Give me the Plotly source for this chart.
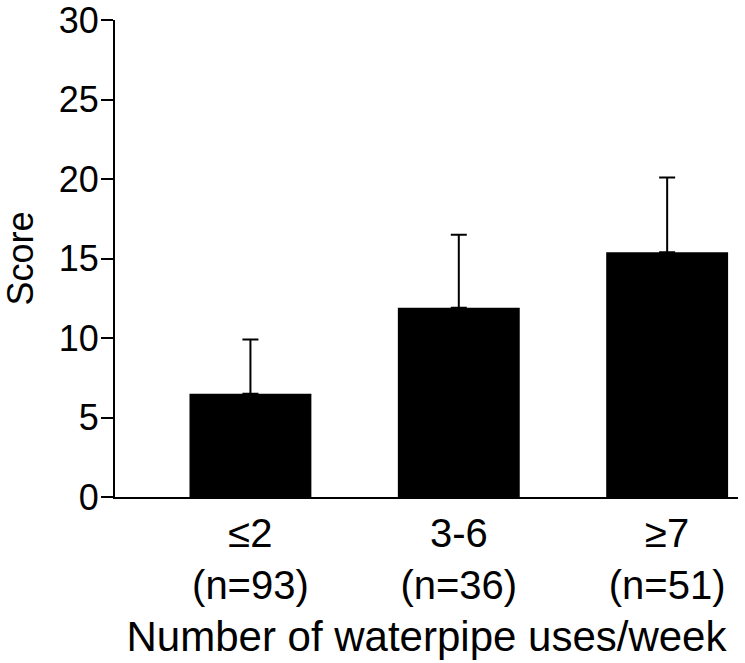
import plotly.graph_objects as go

categories = ["≤2<br>(n=93)", "3-6<br>(n=36)", "≥7<br>(n=51)"]
means = [6.5, 11.9, 15.4]
errors = [3.4, 4.6, 4.7]
y_ticks = [0, 5, 10, 15, 20, 25, 30]

FONT = "Liberation Sans, Arial, sans-serif"

fig = go.Figure()
fig.add_trace(go.Bar(
    x=[0, 1, 2],
    y=means,
    marker=dict(color="black", line=dict(width=0)),
    width=0.585,
    error_y=dict(type="data", symmetric=False, array=errors,
                 arrayminus=[0] * len(errors), color="black",
                 thickness=2, width=8),
))

fig.update_layout(
    width=745, height=663,
    margin=dict(l=115, r=7, t=20, b=166),
    plot_bgcolor="white", paper_bgcolor="white",
    showlegend=False,
    font=dict(family=FONT, color="black", size=38),
)
fig.update_xaxes(
    range=[-0.65, 2.34],
    tickvals=[0, 1, 2], ticktext=categories,
    showline=True, linecolor="black", linewidth=2,
    ticks="", showgrid=False, zeroline=False,
    tickfont=dict(size=40),
    automargin=False,
    title=dict(text="Number of waterpipe uses/week", font=dict(size=42), standoff=16),
)
fig.update_yaxes(
    range=[0, 30],
    tickvals=y_ticks,
    showline=True, linecolor="black", linewidth=2,
    ticks="outside", ticklen=12, tickwidth=2, tickcolor="black",
    showgrid=False, zeroline=False,
    tickfont=dict(size=36),
    ticklabelstandoff=-5,
    ticklabeloverflow="allow",
    automargin=False,
    title=dict(text="Score", font=dict(size=36), standoff=22),
)

fig.write_html("out.html", config={"displayModeBar": False},
               post_script="document.body.style.margin='0';")
